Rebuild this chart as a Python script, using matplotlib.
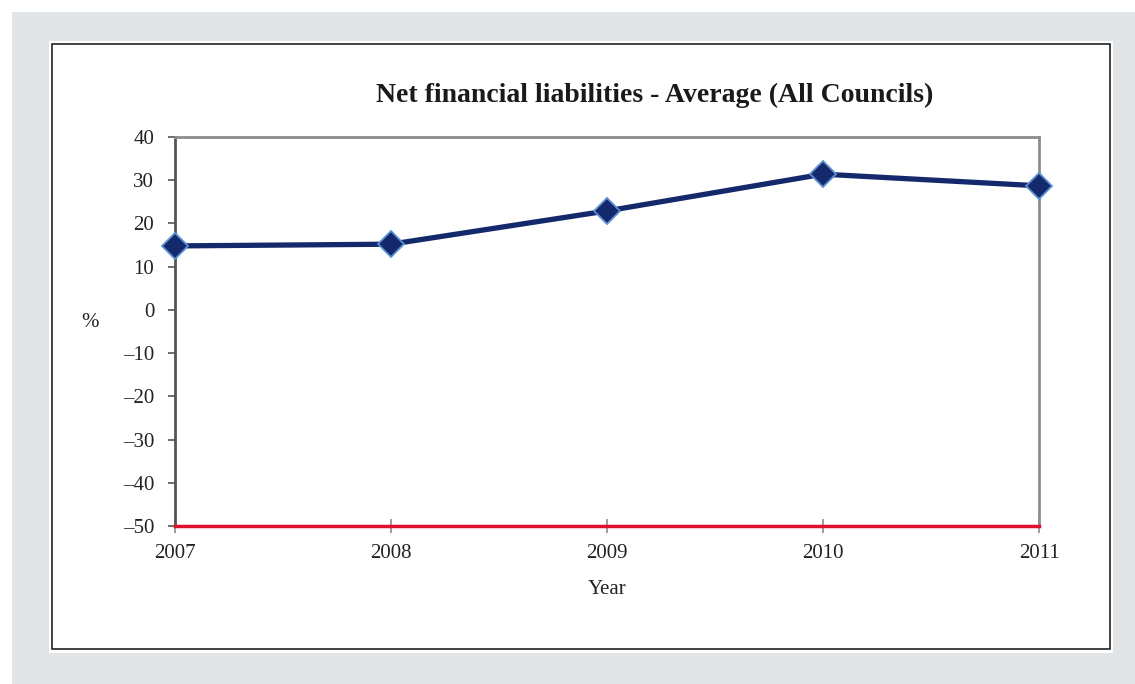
import matplotlib.pyplot as plt
from matplotlib.patches import Rectangle

years = [2007, 2008, 2009, 2010, 2011]
average_liabilities = [14.8, 15.2, 22.9, 31.4, 28.7]
y_ticks = [40, 30, 20, 10, 0, -10, -20, -30, -40, -50]

plt.rcParams['font.family'] = ['Liberation Serif', 'DejaVu Serif']

W, H = 1135, 684
fig = plt.figure(figsize=(W / 100, H / 100), dpi=100)
fig.patch.set_facecolor('white')

# grey page background and white chart panel
fig.patches.append(Rectangle((12 / W, 0), 1 - 12 / W, 1 - 12 / H, transform=fig.transFigure,
                             facecolor='#e2e5e8', edgecolor='none', zorder=0))
fig.patches.append(Rectangle((49 / W, 1 - 653 / H), (1113 - 49) / W, (653 - 41) / H,
                             transform=fig.transFigure, facecolor='white', edgecolor='none', zorder=1))
fig.patches.append(Rectangle((52 / W, 1 - 649 / H), (1110 - 52) / W, (649 - 44) / H,
                             transform=fig.transFigure, facecolor='none', edgecolor='#222222',
                             linewidth=1.2, zorder=2))

ax = fig.add_axes([175 / W, 1 - 526 / H, (1039 - 175) / W, (526 - 137) / H])
ax.set_zorder(3)
ax.set_facecolor('white')

ax.plot(years, average_liabilities, color='#13296b', linewidth=3.8, marker='D',
        markersize=13, markerfacecolor='#13296b', markeredgecolor='#5b8fd0',
        markeredgewidth=1.3, clip_on=False, zorder=5)

ax.set_xlim(2007, 2011)
ax.set_ylim(-50, 40)
ax.set_xticks(years)
ax.set_yticks(y_ticks)
ax.set_yticklabels([str(t).replace('-', '\u2013') if t < 0 else str(t) for t in y_ticks])

for side in ['top', 'right']:
    ax.spines[side].set_color('#8c8c8c')
    ax.spines[side].set_linewidth(2)
ax.spines['left'].set_color('#555555')
ax.spines['left'].set_linewidth(2)
ax.spines['bottom'].set_color('#e0102a')
ax.spines['bottom'].set_linewidth(2.5)
ax.spines['bottom'].set_zorder(4)

ax.tick_params(axis='y', direction='out', length=5, width=1.2, color='#555555',
               labelsize=15, labelcolor='#222222', pad=10)
ax.tick_params(axis='x', direction='inout', length=10, width=1.2, color='#8c8c8c',
               labelsize=15, labelcolor='#222222', pad=8)

fig.text(655 / W, 1 - 95 / H, 'Net financial liabilities - Average (All Councils)',
         fontsize=20, fontweight='bold', color='#1a1a1a', ha='center', va='center')
fig.text(607 / W, 1 - 589 / H, 'Year', fontsize=15, color='#222222', ha='center', va='center')
fig.text(90 / W, 1 - 322 / H, '%', fontsize=15, color='#222222', ha='center', va='center')

fig.savefig('out.png', dpi=100)
